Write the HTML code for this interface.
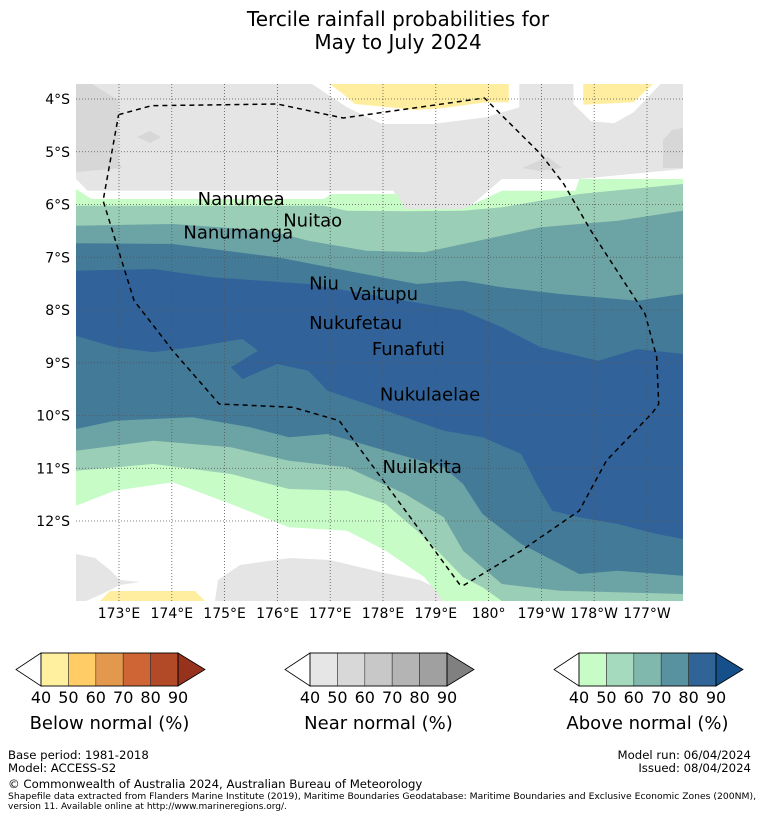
<!DOCTYPE html>
<html><head><meta charset="utf-8"><style>
body{margin:0;background:#fff;font-family:"DejaVu Sans","Liberation Sans",sans-serif}
svg text{font-family:"DejaVu Sans","Liberation Sans",sans-serif;fill:#000}
</style></head><body>
<svg id="s" width="758" height="816" viewBox="0 0 758 816" xmlns="http://www.w3.org/2000/svg">
<text x="398" y="26" font-size="20" text-anchor="middle">Tercile rainfall probabilities for</text>
<text x="398" y="49" font-size="20" text-anchor="middle">May to July 2024</text>
<defs><clipPath id="mc"><rect x="76" y="84" width="607" height="517"/></clipPath></defs>
<g id="map" clip-path="url(#mc)"></g>
<g id="grid"></g>
<g id="ticks"></g>
<g id="labels"></g>
<g id="cbars"></g>
<g font-size="12">
<text x="8" y="759" font-size="11.7">Base period: 1981-2018</text>
<text x="8" y="772" font-size="11.7">Model: ACCESS-S2</text>
<text x="751" y="759" font-size="11.7" text-anchor="end">Model run: 06/04/2024</text>
<text x="751" y="772" font-size="11.7" text-anchor="end">Issued: 08/04/2024</text>
<text x="8" y="788" font-size="11.7">© Commonwealth of Australia 2024, Australian Bureau of Meteorology</text>
<text x="8" y="799" font-size="9" textLength="748" lengthAdjust="spacingAndGlyphs">Shapefile data extracted from Flanders Marine Institute (2019), Maritime Boundaries Geodatabase: Maritime Boundaries and Exclusive Economic Zones (200NM),</text>
<text x="8" y="809" font-size="9">version 11. Available online at http://www.marineregions.org/.</text>
</g>
</svg>
<script>
const NS='http://www.w3.org/2000/svg';
const lonTicks=['173°E','174°E','175°E','176°E','177°E','178°E','179°E','180°','179°W','178°W','177°W'];
const lonVals=[173,174,175,176,177,178,179,180,181,182,183];
const latTicks=['4°S','5°S','6°S','7°S','8°S','9°S','10°S','11°S','12°S'];
const latVals=[4,5,6,7,8,9,10,11,12];
const islands=['Nanumea','Nuitao','Nanumanga','Niu','Vaitupu','Nukufetau','Funafuti','Nukulaelae','Nuilakita'];
const islandLon=[174.49,176.11,174.22,176.6,177.37,176.6,177.79,177.94,177.99];
const islandLat=[5.9,6.3,6.53,7.5,7.7,8.25,8.74,9.6,10.98];
const cbTicks=['40','50','60','70','80','90'];
const cbNames=['Below normal (%)','Near normal (%)','Above normal (%)'];
const cbColors=[['#fff0a0','#ffcc66','#e3994d','#cf6534','#b24a28','#97321d'],
['#e6e6e6','#d8d8d8','#c8c8c8','#b4b4b4','#a0a0a0','#808080'],
['#c7fcc7','#a6dabe','#80b8ae','#5891a0','#306497','#15508a']];
function X(lon){return 119+(lon-173)*52.8;}
function Y(lat){return 99+(lat-4)*52.75;}
function zx(v){return 76+v/2.583;} function zy(v){return 84+v/3;}
function mk(tag,attrs,parent){const e=document.createElementNS(NS,tag);for(const k in attrs)e.setAttribute(k,attrs[k]);parent.appendChild(e);return e;}
const map=document.getElementById('map');
mk('rect',{x:76,y:84,width:607,height:517,fill:'#fff'},map);
function polyZ(pts,fill,name){const p=mk('polygon',{points:pts.map(q=>zx(q[0]).toFixed(1)+','+zy(q[1]).toFixed(1)).join(' '),fill:fill},map);}
function polyO(pts,fill,name){const p=mk('polygon',{points:pts.map(q=>q.join(',')).join(' '),fill:fill},map);}
polyZ([[0,0],[1568,0],[1568,255],[1300,285],[1100,285],[1010,375],[840,375],[820,320],[30,320],[0,285]],'#e5e5e5','near-normal-north');
polyO([[76,84],[92,84],[118,100],[118,160],[122,168],[76,172]],'#d7d7d7','near-normal-50-west');
polyO([[137,137],[150,131],[161,137],[150,143]],'#d7d7d7','near-normal-50-patch');
polyO([[663,140],[672,130],[683,128],[683,168],[663,168]],'#d7d7d7','near-normal-50-east');
polyO([[522,168],[548,157],[562,168],[540,171]],'#d7d7d7','near-normal-50-patch2');
polyZ([[610,0],[1145,0],[1145,70],[1060,100],[920,120],[790,120],[700,70]],'#fff','white-halo-1');
polyZ([[655,0],[1118,0],[1118,55],[1060,55],[950,72],[880,78],[720,60],[690,30]],'#ffeea0','below-normal-north');
polyZ([[1285,0],[1510,0],[1440,85],[1390,118],[1330,112],[1285,60]],'#fff','white-halo-2');
polyZ([[1310,0],[1490,0],[1440,55],[1310,62]],'#ffeea0','below-normal-northeast');
polyO([[76,554],[95,558],[110,570],[120,580],[140,582],[120,585],[100,595],[86,601],[76,601]],'#e5e5e5','near-normal-southwest');
polyO([[215,601],[218,580],[240,565],[290,558],[330,560],[380,572],[420,580],[440,590],[455,601]],'#e5e5e5','near-normal-south');
polyO([[100,601],[110,591],[195,591],[205,601]],'#ffeea0','below-normal-south');
const T1=[[0,315],[40,345],[640,345],[660,330],[830,330],[850,375],[1000,375],[1100,320],[1290,320],[1300,285],[1568,285]];
const B1=[[0,1265],[100,1220],[250,1195],[400,1260],[550,1330],[700,1340],[800,1400],[900,1480],[950,1551],[1568,1551]];
const T2=[[0,365],[640,365],[700,380],[850,382],[1000,380],[1100,370],[1300,330],[1568,300]];
const B2=[[0,1160],[200,1140],[400,1170],[550,1215],[700,1220],[800,1260],[900,1360],[950,1420],[1000,1480],[1050,1510],[1100,1551],[1568,1551]];
const T3=[[0,425],[250,420],[500,440],[600,470],[750,500],[900,505],[1000,480],[1200,430],[1400,410],[1568,380]];
const B3=[[0,1100],[200,1070],[400,1090],[550,1130],[700,1150],[850,1230],[950,1300],[1000,1400],[1100,1500],[1250,1520],[1568,1530]];
const T4=[[0,478],[250,480],[520,520],[700,560],[880,600],[1000,590],[1100,610],[1250,630],[1450,650],[1568,630]];
const B4=[[0,1035],[100,1010],[300,1000],[450,1030],[550,1060],[650,1050],[800,1100],[950,1150],[1000,1200],[1050,1290],[1150,1380],[1300,1470],[1400,1460],[1568,1475]];
const T5=[[0,560],[200,555],[350,580],[600,600],[800,640],[1000,680],[1100,730],[1200,790],[1350,830],[1450,795],[1568,810]];
const B5=[[0,755],[100,790],[200,805],[300,790],[430,765],[470,800],[400,850],[430,885],[520,840],[600,860],[650,920],[750,960],[850,1000],[950,1040],[1050,1060],[1150,1110],[1190,1200],[1230,1280],[1300,1300],[1400,1320],[1500,1350],[1568,1365]];
const bands=[[T1,B1,'#c7fcc7'],[T2,B2,'#9bceb6'],[T3,B3,'#6ca3a5'],[T4,B4,'#427a98'],[T5,B5,'#31639a']];
bands.forEach((b,i)=>polyZ(b[0].concat(b[1].slice().reverse()),b[2],'above-normal-band-'+(40+i*10)));
const eez=[[110,92],[195,65],[520,60],[690,102],[1055,42],[1200,210],[1260,300],[1330,440],[1470,690],[1500,820],[1505,960],[1490,985],[1370,1130],[1300,1280],[1150,1400],[1000,1505],[990,1500],[680,1010],[560,970],[370,960],[250,800],[150,650],[70,350],[110,92]];
const e=mk('polyline',{points:eez.map(q=>zx(q[0]).toFixed(1)+','+zy(q[1]).toFixed(1)).join(' '),fill:'none',stroke:'#000','stroke-width':1.5,'stroke-dasharray':'5,4'},map);

const grid=document.getElementById('grid'),ticks=document.getElementById('ticks');
lonVals.forEach((v,i)=>{const l=mk('line',{x1:X(v),x2:X(v),y1:84,y2:601,stroke:'#555','stroke-width':0.8,'stroke-dasharray':'1,2'},grid);

const t=mk('text',{x:X(v),y:618,'font-size':14,'text-anchor':'middle'},ticks);t.textContent=lonTicks[i];
});
latVals.forEach((v,i)=>{const l=mk('line',{x1:76,x2:683,y1:Y(v),y2:Y(v),stroke:'#555','stroke-width':0.8,'stroke-dasharray':'1,2'},grid);

const t=mk('text',{x:70,y:Y(v)+5,'font-size':14,'text-anchor':'end'},ticks);t.textContent=latTicks[i];
});
const lab=document.getElementById('labels');
islands.forEach((n,i)=>{const t=mk('text',{x:X(islandLon[i]),y:Y(islandLat[i])+6,'font-size':18},lab);t.textContent=n;
});
const cb=document.getElementById('cbars');const starts=[16,285,554];
starts.forEach((x0,k)=>{const g=mk('g',{},cb);
const bx=x0+25,bw=27.4,y0=653,h=33;
mk('polygon',{points:`${bx},${y0} ${x0},${y0+h/2} ${bx},${y0+h}`,fill:'#fff',stroke:'#000','stroke-width':0.8},g);
for(let j=0;j<5;j++){mk('rect',{x:bx+j*bw,y:y0,width:bw,height:h,fill:cbColors[k][j],stroke:'#333','stroke-width':0.6},g);}
const ex=bx+5*bw;mk('polygon',{points:`${ex},${y0} ${ex+27},${y0+h/2} ${ex},${y0+h}`,fill:cbColors[k][5],stroke:'#000','stroke-width':0.8},g);
mk('rect',{x:bx,y:y0,width:5*bw,height:h,fill:'none',stroke:'#000','stroke-width':0.8},g);
cbTicks.forEach((t,j)=>{const tx=mk('text',{x:bx+j*bw,y:703,'font-size':16,'text-anchor':'middle'},g);tx.textContent=t;
});
const ti=mk('text',{x:bx+2.5*bw,y:729,'font-size':18,'text-anchor':'middle'},g);ti.textContent=cbNames[k];
});
</script>
</body></html>
